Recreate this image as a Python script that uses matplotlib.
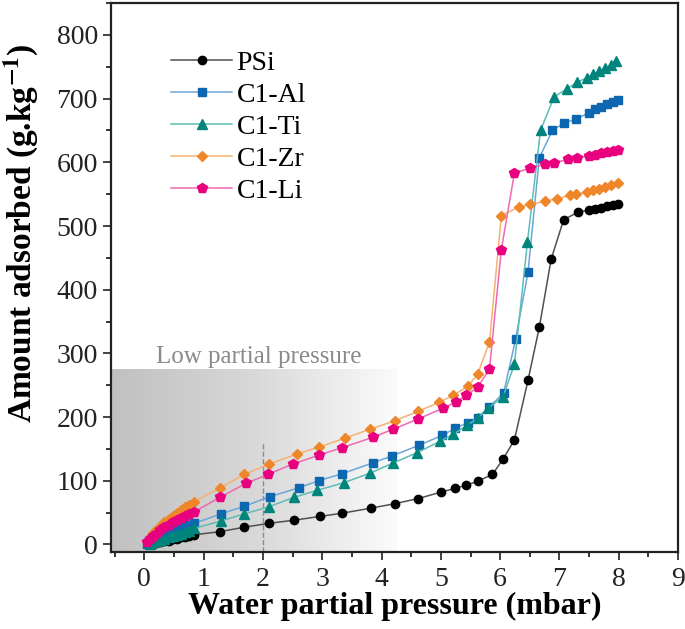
import numpy as np
import matplotlib
matplotlib.use("Agg")
import matplotlib.pyplot as plt
from matplotlib.colors import LinearSegmentedColormap
from matplotlib.ticker import MultipleLocator

plt.rcParams['font.family'] = ['Liberation Serif', 'DejaVu Serif']
plt.rcParams['mathtext.fontset'] = 'stix'

# ---------------- data ----------------
psi_x = [0.15, 0.2, 0.27, 0.34, 0.41, 0.48, 0.55, 0.62, 0.69, 0.76, 0.84,
         1.28, 1.69, 2.1, 2.53, 2.97, 3.34, 3.83, 4.23, 4.62, 5.0, 5.24, 5.43,
         5.62, 5.87, 6.05, 6.24, 6.47, 6.66, 6.86, 7.07, 7.32, 7.5, 7.6, 7.7,
         7.8, 7.9, 7.98]
psi_y = [1, 2, 3, 5, 6, 8, 9, 11, 12, 13, 15,
         20, 27, 33, 38, 44, 49, 57, 64, 72, 82, 88, 93,
         99, 110, 134, 164, 258, 341, 448, 510, 522, 525, 527, 529,
         531, 533, 535]

al_x = [0.05, 0.1, 0.15, 0.2, 0.27, 0.34, 0.41, 0.48, 0.55, 0.62, 0.69, 0.76,
        0.84, 1.3, 1.69, 2.12, 2.61, 2.94, 3.34, 3.85, 4.18, 4.64, 5.02, 5.24,
        5.45, 5.62, 5.82, 6.06, 6.26, 6.47, 6.66, 6.88, 7.08, 7.28, 7.5, 7.6,
        7.7, 7.8, 7.9, 7.98]
al_y = [1, 4, 7, 10, 13, 16, 19, 22, 24, 26, 28, 30,
        33, 48, 60, 75, 89, 100, 111, 128, 139, 156, 171, 182,
        191, 199, 216, 238, 322, 428, 607, 650, 662, 668, 678, 683,
        687, 691, 695, 698]

ti_x = [0.1, 0.15, 0.2, 0.27, 0.34, 0.41, 0.48, 0.55, 0.62, 0.69, 0.76, 0.84,
        1.3, 1.69, 2.1, 2.53, 2.92, 3.37, 3.81, 4.2, 4.6, 4.99, 5.21, 5.44,
        5.62, 5.8, 6.05, 6.24, 6.46, 6.68, 6.91, 7.12, 7.3, 7.47, 7.57, 7.67,
        7.77, 7.87, 7.95]
ti_y = [1, 3, 5, 7, 9, 11, 13, 15, 17, 19, 21, 25,
        37, 48, 59, 74, 85, 97, 112, 128, 144, 162, 173, 187,
        198, 214, 232, 283, 475, 650, 703, 715, 726, 733, 738, 743,
        748, 753, 759]

zr_x = [0.05, 0.1, 0.15, 0.2, 0.27, 0.34, 0.41, 0.48, 0.55, 0.62, 0.69, 0.76,
        0.84, 1.28, 1.69, 2.1, 2.58, 2.95, 3.39, 3.81, 4.22, 4.62, 4.97, 5.21,
        5.45, 5.62, 5.82, 6.02, 6.31, 6.51, 6.76, 6.96, 7.17, 7.27, 7.47, 7.57,
        7.67, 7.77, 7.87, 7.98]
zr_y = [5, 12, 18, 23, 29, 35, 40, 45, 50, 54, 58, 62,
        67, 89, 110, 126, 142, 153, 167, 181, 194, 209, 223, 234,
        248, 267, 318, 516, 530, 534, 539, 543, 548, 550, 553, 556,
        558, 561, 564, 567]

li_x = [0.05, 0.1, 0.15, 0.2, 0.27, 0.34, 0.41, 0.48, 0.55, 0.62, 0.69, 0.76,
        0.84, 1.28, 1.72, 2.09, 2.5, 2.94, 3.34, 3.85, 4.2, 4.62, 5.04, 5.26,
        5.43, 5.62, 5.82, 6.02, 6.24, 6.51, 6.76, 6.91, 7.15, 7.3, 7.5, 7.6,
        7.7, 7.8, 7.9, 7.98]
li_y = [3, 8, 13, 17, 22, 27, 31, 35, 39, 42, 45, 48,
        51, 74, 96, 110, 126, 140, 152, 168, 181, 197, 214, 224,
        234, 247, 275, 463, 583, 591, 597, 599, 605, 607, 610, 612,
        614, 616, 618, 620]

labels = ['PSi', 'C1-Al', 'C1-Ti', 'C1-Zr', 'C1-Li']
x_ticks = [0, 1, 2, 3, 4, 5, 6, 7, 8, 9]
y_ticks = [0, 100, 200, 300, 400, 500, 600, 700, 800]

region_xmax = 4.25
region_ymax = 275
divider_x = 2
divider_ymax = 160

# ---------------- figure ----------------
fig = plt.figure(figsize=(6.85, 6.29), dpi=100)
ax = fig.add_axes([0.162, 0.1224, 0.828, 0.8726])
xmin, xmax = -0.56, 9.0
ymin, ymax = -12, 850

# gradient shaded region
cmap = LinearSegmentedColormap.from_list('g', ['#c0c0c0', '#d8d8d8', '#fbfbfb'])
grad = np.linspace(0, 1, 256).reshape(1, -1)
ax.imshow(grad, cmap=cmap, aspect='auto', extent=[xmin, region_xmax, ymin, region_ymax],
          zorder=0, interpolation='bilinear')
ax.set_xlim(xmin, xmax)
ax.set_ylim(ymin, ymax)

ax.text(0.2, 294, 'Low partial pressure', color='#8a8a8a', fontsize=18,
        ha='left', va='center', zorder=1)
ax.plot([divider_x, divider_x], [ymin, divider_ymax], ls='--', color='#8c8c8c',
        lw=1, zorder=1)

series = [
    (psi_x, psi_y, 'o', 'black', '#505050', 6.0),
    (al_x, al_y, 's', '#0d67b0', '#6aa6d8', 5.5),
    (ti_x, ti_y, '^', '#00857c', '#5cbdb3', 6.5),
    (zr_x, zr_y, 'D', '#f0862a', '#f6b070', 5.5),
    (li_x, li_y, 'p', '#e8007f', '#f068b0', 7.0),
]
for (xs, ys, mk, mc, lc, ms), lab in zip(series, labels):
    ax.plot(xs, ys, color=lc, lw=1.1, marker=mk, markersize=ms,
            markerfacecolor=mc, markeredgecolor=mc, label=lab, zorder=3)

ax.set_xticks(x_ticks)
ax.set_yticks(y_ticks)
ax.xaxis.set_minor_locator(MultipleLocator(0.5))
ax.yaxis.set_minor_locator(MultipleLocator(50))
ax.tick_params(axis='both', which='major', direction='out', length=6, width=1.2,
               labelsize=20, colors='#222222')
ax.tick_params(axis='x', which='major', pad=5)
ax.tick_params(axis='both', which='minor', direction='out', length=3.5, width=1.1)
for s in ax.spines.values():
    s.set_linewidth(1.6)
    s.set_color('#222222')

ax.set_xlabel('Water partial pressure (mbar)', fontsize=23, fontweight='bold', labelpad=0)
ax.set_ylabel(r'Amount adsorbed (g.kg$^{\mathbf{-1}}$)', fontsize=24,
              fontweight='bold')
ax.yaxis.set_label_coords(-0.125, 0.58)

leg = ax.legend(loc='upper left', bbox_to_anchor=(0.062, 0.96), frameon=False,
                fontsize=20, handlelength=2.2, labelspacing=0.24, handletextpad=0.15)

fig.savefig('out.png', dpi=100)
